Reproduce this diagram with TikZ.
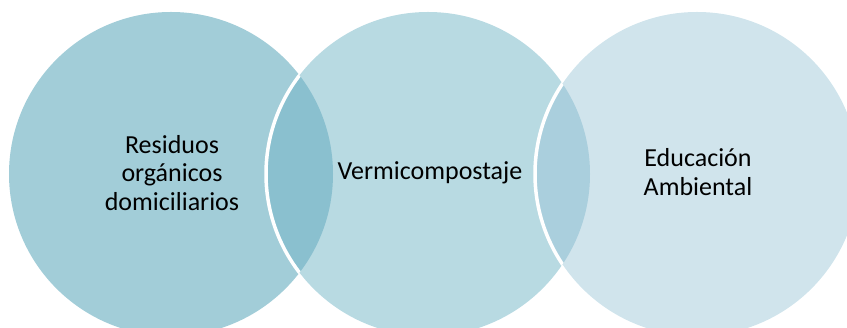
\documentclass[tikz,border=0pt]{standalone}
\usepackage{fontspec}
\setmainfont{Carlito}
\definecolor{cA}{HTML}{A2CDD8}
\definecolor{cB}{HTML}{B8DAE2}
\definecolor{cC}{HTML}{D0E4EC}
\definecolor{lAB}{HTML}{8AC0CF}
\definecolor{lBC}{HTML}{AACFDD}
\begin{document}
\begin{tikzpicture}[x=1pt,y=1pt,
  lbl/.style={align=center,font=\fontsize{26}{28.5}\selectfont,text=black,inner sep=0pt},
  ring/.style={draw=white,line width=3.5pt}]
\useasboundingbox (0,0) rectangle (847,328);
\clip (0,0) rectangle (847,328);
% circle centres (y measured upwards)
\coordinate (c1) at (171,154);
\coordinate (c2) at (428,154);
\coordinate (c3) at (697,154);
\def\rad{162}
% discs
\fill[cA] (c1) circle (\rad);
\fill[cB] (c2) circle (\rad);
\fill[cC] (c3) circle (\rad);
% overlaps
\begin{scope}
  \clip (c1) circle (\rad);
  \fill[lAB] (c2) circle (\rad);
  \draw[ring] (c2) circle (\rad);
\end{scope}
\begin{scope}
  \clip (c2) circle (\rad);
  \fill[lBC] (c3) circle (\rad);
  \draw[ring] (c3) circle (\rad);
\end{scope}
% labels
\node[lbl] (t1) at (172,155) {Residuos\\orgánicos\\domiciliarios};
\node[lbl] (t2) at (430,155) {Vermicompostaje};
\node[lbl] (t3) at (698,156) {Educación\\Ambiental};
\end{tikzpicture}
\end{document}
